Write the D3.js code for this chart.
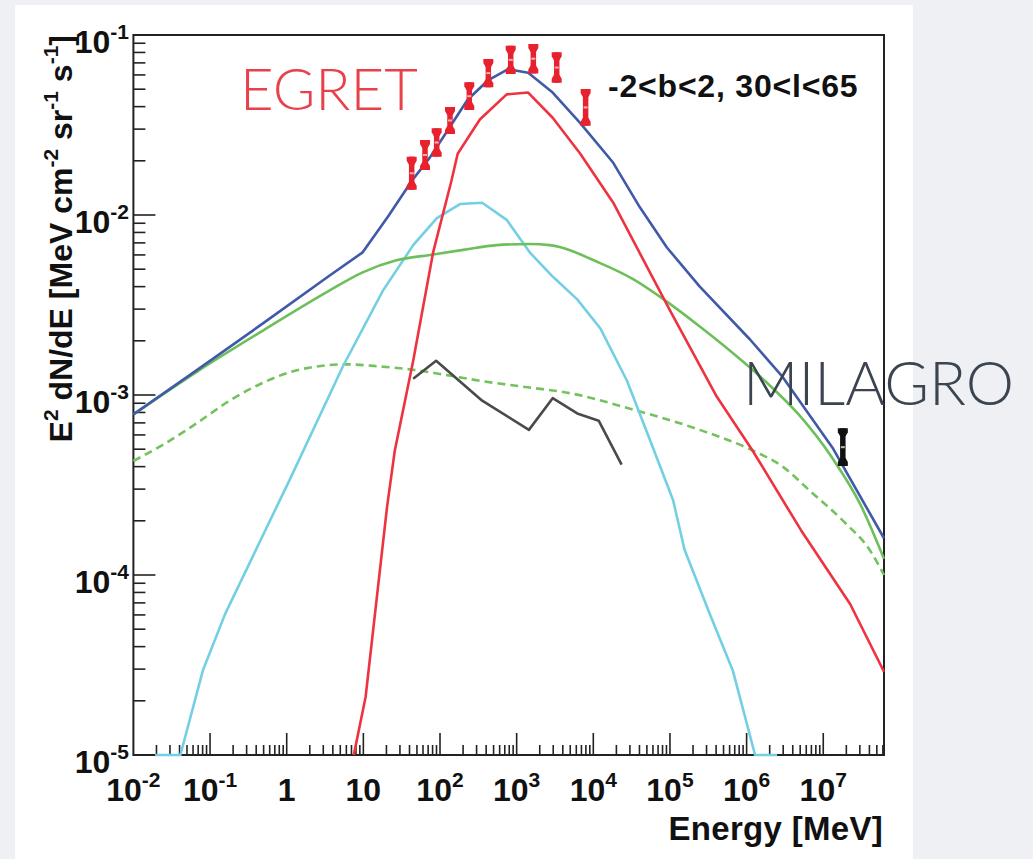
<!DOCTYPE html>
<html>
<head>
<meta charset="utf-8">
<script src="https://d3js.org/d3.v7.min.js"></script>
<style>
  html, body { margin: 0; padding: 0; background: #eef0f3; }
  svg { display: block; }
</style>
</head>
<body>
<div id="graf"></div>
<script>
// curvas del modelo (energia en MeV, flujo E^2 dN/dE)
const totalE = [0.01, 0.068, 0.49, 3.6, 9.8, 21, 43, 74, 135, 229, 427, 776, 1413, 2951, 6761, 18200, 40700, 91200, 245000, 1.1e6, 2.95e6, 1.32e7, 6.2e7];
const totalF = [7.8e-4, 1.38e-3, 2.5e-3, 4.6e-3, 6.2e-3, 9.8e-3, 0.0155, 0.0209, 0.0309, 0.0437, 0.0562, 0.0646, 0.0617, 0.0479, 0.0324, 0.0195, 0.011, 0.0066, 0.004, 0.00204, 0.00126, 5.1e-4, 1.6e-4];

const pionE = [7.5, 10.7, 20.4, 25.7, 44.7, 81.3, 141, 170, 331, 741, 1413, 2951, 6761, 18200, 1e5, 4.07e5, 1.2e6, 5.1e6, 2.24e7, 6.2e7];
const pionF = [1e-5, 2.1e-5, 2.4e-4, 4.9e-4, 1.55e-3, 6.2e-3, 0.0155, 0.0219, 0.0339, 0.0468, 0.0479, 0.0347, 0.0219, 0.0117, 2.95e-3, 9.8e-4, 4.9e-4, 1.78e-4, 6.9e-5, 2.9e-5];

const bremE = [0.0192, 0.041, 0.081, 0.158, 0.40, 1.1, 5.4, 18, 44.7, 91, 182, 355, 741, 1480, 2950, 6170, 12300, 27500, 55000, 1.1e5, 1.55e5, 3.4e5, 6.6e5, 1.29e6, 2.5e6];
const bremF = [1e-5, 1e-5, 2.97e-5, 6.1e-5, 1.39e-4, 3.4e-4, 1.44e-3, 3.8e-3, 6.8e-3, 9.6e-3, 0.0115, 0.0117, 9.4e-3, 6.2e-3, 4.55e-3, 3.4e-3, 2.35e-3, 1.2e-3, 5.6e-4, 2.6e-4, 1.38e-4, 5.9e-5, 2.95e-5, 1e-5, 1e-5];

const icE = [0.01, 0.068, 0.49, 3.6, 9.8, 27, 74, 200, 550, 1480, 2700, 12300, 33000, 91000, 2.45e5, 6.6e5, 1.8e6, 4.9e6, 1.32e7, 3.0e7, 6.2e7];
const icF = [7.8e-4, 1.35e-3, 2.28e-3, 3.8e-3, 4.8e-3, 5.6e-3, 6.0e-3, 6.4e-3, 6.8e-3, 6.9e-3, 6.8e-3, 5.4e-3, 4.4e-3, 3.3e-3, 2.4e-3, 1.71e-3, 1.18e-3, 7.7e-4, 4.45e-4, 2.5e-4, 1.23e-4];

const icDashE = [0.01, 0.0245, 0.068, 0.18, 0.49, 1.1, 2.45, 6.1, 16.6, 44.7, 123, 331, 1480, 4570, 33000, 2.45e5, 1.1e6, 2.95e6, 6.9e6, 1.9e7, 4.07e7, 6.2e7];
const icDashF = [4.3e-4, 5.3e-4, 7.0e-4, 9.3e-4, 1.17e-3, 1.34e-3, 1.44e-3, 1.48e-3, 1.44e-3, 1.38e-3, 1.29e-3, 1.2e-3, 1.1e-3, 1.03e-3, 8.3e-4, 6.4e-4, 5.0e-4, 4.0e-4, 2.9e-4, 1.96e-4, 1.37e-4, 1.0e-4];

const grayE = [44.7, 89, 355, 1445, 2950, 6170, 11750, 23400];
const grayF = [1.23e-3, 1.55e-3, 9.3e-4, 6.4e-4, 9.6e-4, 7.9e-4, 7.2e-4, 4.1e-4];

// datos medidos (barras de error)
const egretE = [42.7, 63.7, 90.5, 135, 241, 427, 836, 1650, 3330, 7940];
const egretLo = [0.0138, 0.0178, 0.0211, 0.0282, 0.0383, 0.0512, 0.0607, 0.0612, 0.0543, 0.0313];
const egretHi = [0.0211, 0.0261, 0.0303, 0.0398, 0.0546, 0.0736, 0.0872, 0.0891, 0.0801, 0.0501];

const milagroE = [1.8e7];
const milagroLo = [4.03e-4];
const milagroHi = [6.53e-4];

// etiquetas de los ejes
const xLabelExp = [-2, -1, 0, 1, 2, 3, 4, 5, 6, 7];
const yLabelExp = [-1, -2, -3, -4, -5];

const W = 1033, H = 859;
const frame = { left: 133.4, right: 884, top: 35, bottom: 755 };

const svg = d3.select("#graf").append("svg").attr("width", W).attr("height", H);

// fondo
svg.append("rect").attr("width", W).attr("height", H).attr("fill", "#eef0f3");
svg.append("rect").attr("x", 15).attr("y", 5).attr("width", 898).attr("height", H - 5).attr("fill", "#ffffff");

// escalas
const x = d3.scaleLog().domain([1e-2, 6.2e7]).range([frame.left, frame.right]);
const y = d3.scaleLog().domain([1e-5, 1e-1]).range([frame.bottom, frame.top]);

const isMajor = v => Math.abs(Math.log10(v) - Math.round(Math.log10(v))) < 1e-9;

// marco
svg.append("rect")
  .attr("x", frame.left).attr("y", frame.top)
  .attr("width", frame.right - frame.left).attr("height", frame.bottom - frame.top)
  .attr("fill", "none").attr("stroke", "#222").attr("stroke-width", 2);

// marcas eje x (hacia arriba)
const gx = svg.append("g").attr("stroke", "#222").attr("stroke-width", 1.6);
gx.selectAll("line").data(x.ticks().filter(v => v > 1e-2 && v < 6.2e7)).enter().append("line")
  .attr("x1", d => x(d)).attr("x2", d => x(d))
  .attr("y1", frame.bottom).attr("y2", d => frame.bottom - (isMajor(d) ? 22 : 10));

// marcas eje y (hacia la derecha)
const gy = svg.append("g").attr("stroke", "#222").attr("stroke-width", 1.6);
gy.selectAll("line").data(y.ticks().filter(v => v > 1e-5 && v < 1e-1)).enter().append("line")
  .attr("y1", d => y(d)).attr("y2", d => y(d))
  .attr("x1", frame.left).attr("x2", d => frame.left + (isMajor(d) ? 22 : 12));

// etiquetas eje x
const xl = svg.append("g").attr("font-family", "'Liberation Sans', Arial, sans-serif")
  .attr("font-weight", "bold").attr("fill", "#111");
xLabelExp.forEach(k => {
  const t = xl.append("text").attr("x", x(Math.pow(10, k))).attr("y", 801)
    .attr("text-anchor", "middle").attr("font-size", 32);
  if (k === 0) t.text("1");
  else if (k === 1) t.text("10");
  else {
    t.append("tspan").text("10");
    t.append("tspan").attr("dy", -14).attr("font-size", 21).text(k);
  }
});

// etiquetas eje y
yLabelExp.forEach(k => {
  const t = xl.append("text").attr("x", 129).attr("y", y(Math.pow(10, k)) + 18)
    .attr("text-anchor", "end").attr("font-size", 32);
  t.append("tspan").text("10");
  t.append("tspan").attr("dy", -14).attr("font-size", 21).text(k);
});

// titulos de los ejes
xl.append("text").attr("x", 883).attr("y", 840).attr("text-anchor", "end")
  .attr("font-size", 33).attr("letter-spacing", 0.3).text("Energy [MeV]");

const yt = xl.append("text").attr("transform", `translate(72, 35) rotate(-90)`)
  .attr("text-anchor", "end").attr("font-size", 32);
yt.append("tspan").text("E");
yt.append("tspan").attr("dy", -14).attr("font-size", 21).text("2");
yt.append("tspan").attr("dy", 14).text(" dN/dE [MeV cm");
yt.append("tspan").attr("dy", -14).attr("font-size", 21).text("-2");
yt.append("tspan").attr("dy", 14).text(" sr");
yt.append("tspan").attr("dy", -14).attr("font-size", 21).text("-1");
yt.append("tspan").attr("dy", 14).text(" s");
yt.append("tspan").attr("dy", -14).attr("font-size", 21).text("-1");
yt.append("tspan").attr("dy", 14).text("]");

// curvas
const linea = (curve) => d3.line()
  .x(d => x(d[0]))
  .y(d => y(Math.max(d[1], 1e-5)))
  .curve(curve);

const curvas = [
  { e: icDashE, f: icDashF, color: "#74c25e", dash: "8,5", curve: d3.curveMonotoneX },
  { e: grayE, f: grayF, color: "#4a4a4a", dash: null, curve: d3.curveLinear },
  { e: bremE, f: bremF, color: "#72d0e2", dash: null, curve: d3.curveLinear },
  { e: icE, f: icF, color: "#6dbf5a", dash: null, curve: d3.curveMonotoneX },
  { e: pionE, f: pionF, color: "#ee3340", dash: null, curve: d3.curveLinear },
  { e: totalE, f: totalF, color: "#4059a8", dash: null, curve: d3.curveLinear }
];

svg.append("g").selectAll("path").data(curvas).enter().append("path")
  .attr("d", c => linea(c.curve)(c.e.map((v, i) => [v, c.f[i]])))
  .attr("fill", "none")
  .attr("stroke", c => c.color)
  .attr("stroke-width", 2.6)
  .attr("stroke-dasharray", c => c.dash)
  .attr("stroke-linejoin", "round");

// barras de error
const barras = (E, lo, hi, color, light) => {
  const g = svg.append("g");
  const pts = E.map((v, i) => ({ e: v, lo: lo[i], hi: hi[i] }));
  const sel = g.selectAll("g").data(pts).enter().append("g");
  sel.append("line")
    .attr("x1", d => x(d.e)).attr("x2", d => x(d.e))
    .attr("y1", d => y(d.lo)).attr("y2", d => y(d.hi))
    .attr("stroke", color).attr("stroke-width", 5.5);
  sel.append("path")
    .attr("d", d => { const cx = x(d.e), t = y(d.hi); return `M${cx - 5},${t}H${cx + 5}V${t + 4}L${cx + 2.7},${t + 8}H${cx - 2.7}L${cx - 5},${t + 4}Z`; })
    .attr("fill", color);
  sel.append("path")
    .attr("d", d => { const cx = x(d.e), b = y(d.lo); return `M${cx - 5},${b}H${cx + 5}V${b - 4}L${cx + 2.7},${b - 8}H${cx - 2.7}L${cx - 5},${b - 4}Z`; })
    .attr("fill", color);
  sel.append("rect").attr("x", d => x(d.e) - 2).attr("y", d => y(Math.sqrt(d.lo * d.hi)) - 1)
    .attr("width", 4).attr("height", 2).attr("fill", light);
};
barras(egretE, egretLo, egretHi, "#e8212e", "#f6b4b8");
barras(milagroE, milagroLo, milagroHi, "#111111", "#bbbbbb");

// textos
svg.append("text").attr("x", 608).attr("y", 97)
  .attr("font-family", "'Liberation Sans', Arial, sans-serif").attr("font-weight", "bold")
  .attr("font-size", 32).attr("letter-spacing", 0.8).attr("fill", "#111").text("-2<b<2, 30<l<65");

svg.append("text").attr("x", 240).attr("y", 110)
  .attr("font-family", "Lato, sans-serif").attr("font-weight", 300)
  .attr("font-size", 58).attr("fill", "#e8414a").text("EGRET");

svg.append("text").attr("x", 743).attr("y", 405)
  .attr("font-family", "Lato, sans-serif").attr("font-weight", 300)
  .attr("font-size", 61).attr("fill", "#3c4452").text("MILAGRO");
</script>
</body>
</html>
